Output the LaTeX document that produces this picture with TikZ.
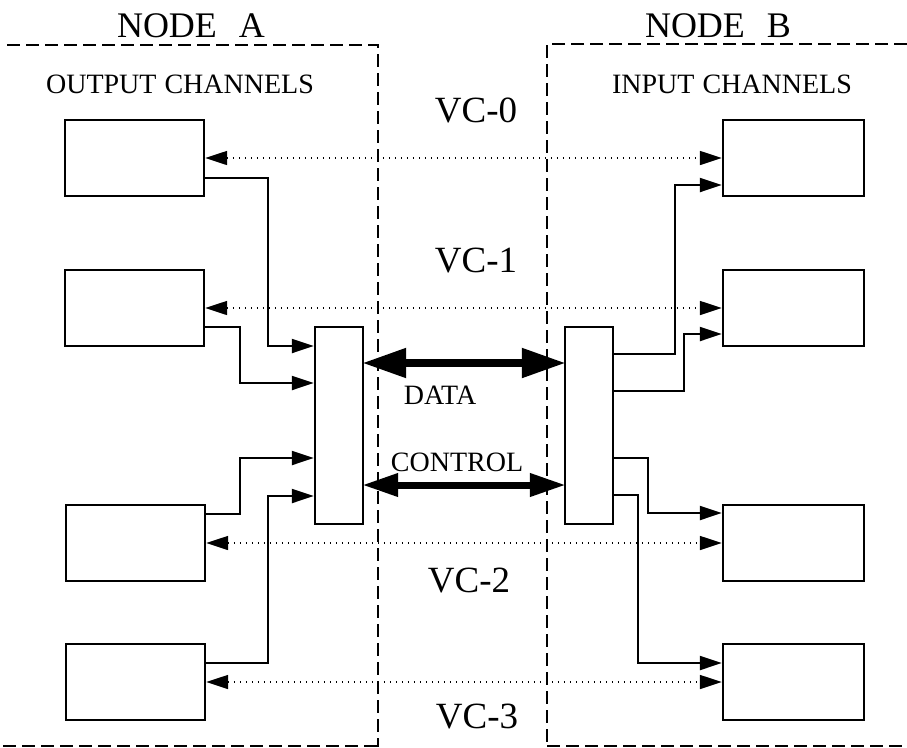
\documentclass[tikz,border=0pt]{standalone}
\usepackage{fontspec}
\setmainfont{Liberation Serif}
\usetikzlibrary{arrows.meta}

\begin{document}
\begin{tikzpicture}[x=1pt,y=-1pt,
  chan/.style={draw, line width=2.4pt, minimum width=139pt, minimum height=76pt, inner sep=0pt},
  mux/.style={draw, line width=2.4pt, minimum width=48pt, minimum height=197pt, inner sep=0pt},
  tip/.tip={Triangle[length=22pt,width=14pt]},
  conn/.style={line width=2.2pt, -tip},
  vcline/.style={line width=1.6pt, dash pattern=on 1.6pt off 4.4pt, tip-tip},
  databus/.style={line width=8pt, shorten <=-2pt, shorten >=-2pt,
    {Triangle[length=44pt,width=28pt]}-{Triangle[length=44pt,width=28pt]}},
  ctrlbus/.style={line width=7pt, shorten <=-2pt, shorten >=-2pt,
    {Triangle[length=36pt,width=22pt]}-{Triangle[length=36pt,width=22pt]}},
  boundary/.style={line width=1.5pt, dash pattern=on 13pt off 6pt},
  title/.style={anchor=base, inner sep=0pt, font=\fontsize{36}{42}\selectfont},
  heading/.style={anchor=base, inner sep=0pt, font=\fontsize{28}{34}\selectfont},
  vclabel/.style={anchor=base, inner sep=0pt, font=\fontsize{37}{44}\selectfont},
  buslabel/.style={anchor=base, inner sep=0pt, font=\fontsize{28}{33}\selectfont}]
\useasboundingbox (0,0) rectangle (907,747);

% node boundaries
\draw[boundary] (7,45) -- (378,45) -- (378,747);
\draw[boundary] (3,746) -- (378,746);
\draw[boundary] (907,44) -- (547,44) -- (547,747);
\draw[boundary] (547,746) -- (907,746);

% titles
\node[title] (tA) at (191,37) {NODE\hspace{22pt}A};
\node[title] (tB) at (718,37) {NODE\hspace{22pt}B};
\node[heading] (hA) at (180,93) {OUTPUT\hspace{8pt}CHANNELS};
\node[heading] (hB) at (732,93) {INPUT\hspace{8pt}CHANNELS};

% channel boxes
\node[chan] (A0) at (134.5,158) {};
\node[chan] (A1) at (134.5,308) {};
\node[chan] (A2) at (135.5,543) {};
\node[chan] (A3) at (135.5,682) {};
\node[chan, minimum width=141pt] (B0) at (793.5,158) {};
\node[chan, minimum width=141pt] (B1) at (793.5,308) {};
\node[chan, minimum width=141pt] (B2) at (793.5,543) {};
\node[chan, minimum width=141pt] (B3) at (793.5,682) {};

% multiplexers
\node[mux] (MA) at (339,425.5) {};
\node[mux] (MB) at (589,425.5) {};

% virtual channels
\draw[vcline] (A0.east) -- (B0.west);
\draw[vcline] (A1.east) -- (B1.west);
\draw[vcline] (A2.east) -- (B2.west);
\draw[vcline] (A3.east) -- (B3.west);
\node[vclabel] (vc0) at (476,122) {VC-0};
\node[vclabel] (vc1) at (476,272) {VC-1};
\node[vclabel] (vc2) at (469,592) {VC-2};
\node[vclabel] (vc3) at (477,728) {VC-3};

% output channels into multiplexer A
\draw[conn] ([yshift=-20pt]A0.east) -| ([xshift=-46pt,yshift=79.5pt]MA.west) -- ([yshift=79.5pt]MA.west);
\draw[conn] ([yshift=-19pt]A1.east) -| ([xshift=-74pt,yshift=42.5pt]MA.west) -- ([yshift=42.5pt]MA.west);
\draw[conn] ([yshift=29pt]A2.east) -| ([xshift=-74pt,yshift=-32.5pt]MA.west) -- ([yshift=-32.5pt]MA.west);
\draw[conn] ([yshift=19pt]A3.east) -| ([xshift=-46pt,yshift=-70.5pt]MA.west) -- ([yshift=-70.5pt]MA.west);

% multiplexer B out to input channels
\draw[conn] ([yshift=71.5pt]MB.east) -| ([xshift=-47pt,yshift=-27pt]B0.west) -- ([yshift=-27pt]B0.west);
\draw[conn] ([yshift=34.5pt]MB.east) -| ([xshift=-38pt,yshift=-26pt]B1.west) -- ([yshift=-26pt]B1.west);
\draw[conn] ([yshift=-32.5pt]MB.east) -| ([xshift=-74pt,yshift=30pt]B2.west) -- ([yshift=30pt]B2.west);
\draw[conn] ([yshift=-69.5pt]MB.east) -| ([xshift=-84pt,yshift=19pt]B3.west) -- ([yshift=19pt]B3.west);

% data and control links
\draw[databus] ([yshift=62.5pt]MA.east) -- ([yshift=62.5pt]MB.west);
\draw[ctrlbus] ([yshift=-59.5pt]MA.east) -- ([yshift=-59.5pt]MB.west);
\node[buslabel] (data) at (440,404) {DATA};
\node[buslabel] (ctrl) at (457,471) {CONTROL};
\end{tikzpicture}
\end{document}
